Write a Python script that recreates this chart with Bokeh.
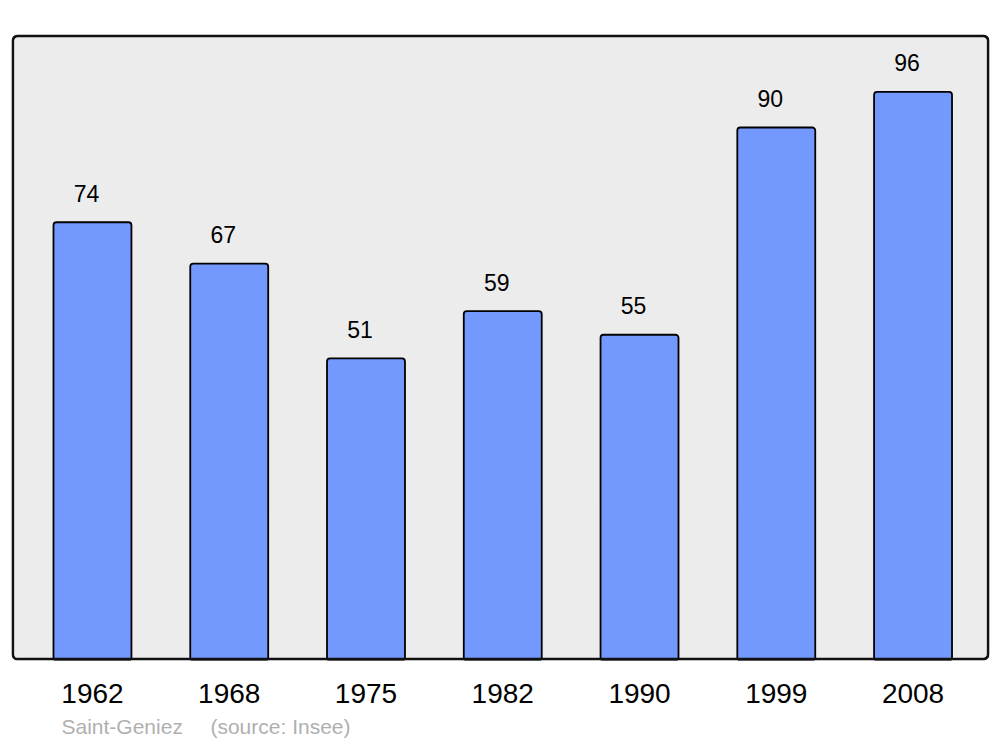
from bokeh.plotting import figure
from bokeh.models import Range1d, BoxAnnotation, Title, FixedTicker, ColumnDataSource
from bokeh.core.properties import value
from bokeh.embed import file_html
from bokeh.resources import INLINE

years = ["1962", "1968", "1975", "1982", "1990", "1999", "2008"]
population = [74, 67, 51, 59, 55, 90, 96]
place = "Saint-Geniez"
source_note = "(source: Insee)"

idx = list(range(len(years)))
src = ColumnDataSource(dict(x=idx, top=population, label=[str(v) for v in population]))

x0, x1, y0, y1 = -0.592, 6.559, 0, 105.7
p = figure(width=995, height=745, output_backend="svg", toolbar_location=None,
           x_range=Range1d(x0, x1), y_range=Range1d(y0, y1),
           min_border_left=11, min_border_right=6, min_border_top=34, min_border_bottom=85)
p.outline_line_color = None
p.background_fill_color = "white"
p.border_fill_color = "white"
p.grid.visible = False
p.yaxis.visible = False

bg = BoxAnnotation(fill_color="#ececec", fill_alpha=1, line_color=None, level="underlay", border_radius=6)
p.add_layout(bg)

p.vbar(x="x", top="top", bottom=0, width=0.57, source=src, fill_color="#7399ff",
       line_color="black", line_width=1.8, border_radius=3)

p.text(x="x", y="top", text="label", source=src, x_offset=-6, y_offset=-29,
       text_align="center", text_baseline="middle", text_font=value("Liberation Sans"),
       text_font_size="23px", text_color="black")

dx, dy = 1.3 / 136.75, 1.3 / 5.909
border = BoxAnnotation(left=x0 + dx, right=x1 - dx, bottom=y0 + dy, top=y1 - dy,
                       fill_color=None, fill_alpha=0, line_color="#111111", line_alpha=1.0,
                       line_width=2.7, level="overlay", border_radius=5)
p.add_layout(border)

ax = p.xaxis[0]
ax.ticker = FixedTicker(ticks=idx)
ax.major_label_overrides = {i: y for i, y in zip(idx, years)}
ax.axis_line_color = None
ax.major_tick_line_color = None
ax.minor_tick_line_color = None
ax.major_label_text_font = "Liberation Sans"
ax.major_label_text_font_size = "28px"
ax.major_label_text_color = "black"
ax.major_label_standoff = 17

nb = "\u00a0"
t = Title(text=place + nb * 4 + "\u2009" + source_note, align="left", offset=50,
          text_font="Liberation Sans", text_font_size="21px", text_font_style="normal",
          text_color="#b0b0b0", standoff=15)
p.add_layout(t, "below")

open("out.html", "w").write(file_html(p, INLINE))
